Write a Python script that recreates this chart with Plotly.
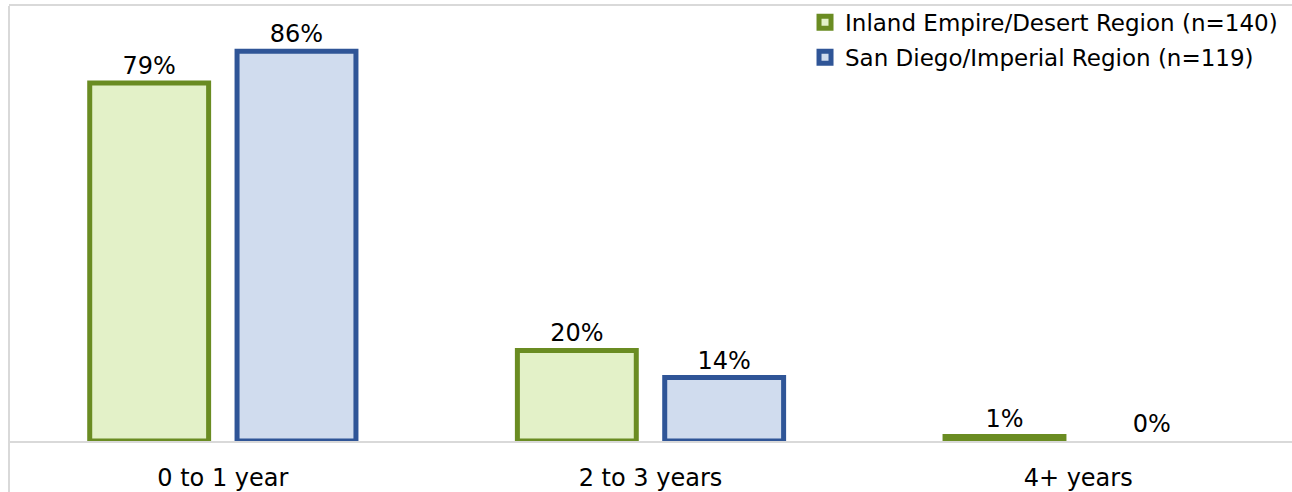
import plotly.graph_objects as go

categories = ["0 to 1 year", "2 to 3 years", "4+ years"]
series_names = ["Inland Empire/Desert Region (n=140)", "San Diego/Imperial Region (n=119)"]
inland = [79, 20, 1]
sandiego = [86, 14, 0]

FONT = "DejaVu Sans"
fig = go.Figure()
fig.add_trace(go.Bar(
    x=categories, y=inland, name=series_names[0], legendgroup="a",
    marker=dict(color="#E3F1C8", line=dict(color="#6A8C22", width=5)),
    texttemplate="%{y}%", textposition="outside", cliponaxis=False,
    textfont=dict(size=24, color="#000000", family=FONT),
))
fig.add_trace(go.Bar(
    x=categories, y=sandiego, name=series_names[1], legendgroup="b",
    marker=dict(color="#D0DCEE", line=dict(color="#2F5597", width=[5, 5, 0])),
    texttemplate="%{y}%", textposition="outside", cliponaxis=False,
    textfont=dict(size=24, color="#000000", family=FONT),
))

fig.update_layout(
    width=1292, height=492,
    margin=dict(l=9, r=0, t=6, b=51),
    paper_bgcolor="white", plot_bgcolor="white",
    barmode="group", bargap=0.311, bargroupgap=0.193,
    font=dict(family=FONT, size=24, color="#000000"),
    legend=dict(x=0.993, xanchor="right", y=1.012, yanchor="top",
                font=dict(size=23, family=FONT), tracegroupgap=2,
                bgcolor="rgba(0,0,0,0)"),
    showlegend=True,
)
fig.update_xaxes(showline=True, linecolor="#D9D9D9", linewidth=2, mirror=True,
                 ticks="", ticklabelstandoff=14, automargin=False,
                 tickfont=dict(size=24, family=FONT))
fig.update_yaxes(range=[0, 96], visible=False)
fig.add_shape(type="line", xref="paper", yref="paper", x0=0, x1=0, y0=-0.2, y1=1,
              line=dict(color="#D9D9D9", width=2))

fig.write_html("out.html", config={"displayModeBar": False},
               post_script="document.body.style.margin='0px';")
